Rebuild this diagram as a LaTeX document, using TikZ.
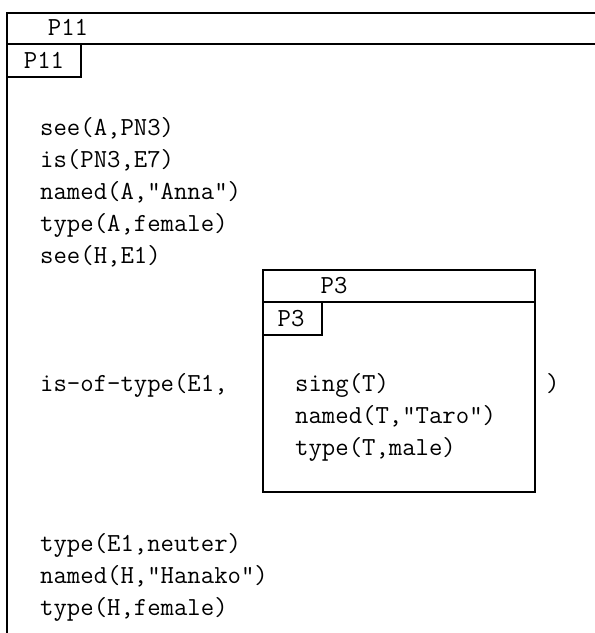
\documentclass[tikz,border=0pt]{standalone}
\usepackage{fontspec}
\setmonofont{Latin Modern Mono}
\begin{document}
\begin{tikzpicture}[x=1pt,y=-1pt,
  frame/.style={line width=1.8pt},
  txt/.style={anchor=base west,inner sep=0pt,font=\fontsize{26}{32}\selectfont\ttfamily},
  lbl/.style={anchor=base,inner sep=0pt,font=\fontsize{26}{32}\selectfont\ttfamily}]
\useasboundingbox (0,0) rectangle (595,633);
% outer box (open to the right and bottom)
\coordinate (oTL) at (7,13);
\coordinate (oTR) at (595,13);
\coordinate (oBL) at (7,633);
\coordinate (oHL) at (7,44);
\coordinate (oHR) at (595,44);
\draw[frame] (oTR) -- (oTL) -- (oBL);
\draw[frame] (oHL) -- (oHR);
\draw[frame] (7,44) -- (81,44) -- (81,77) -- (7,77);
\node[lbl] (oHead) at (68,35) {P11};
\node[lbl] (oTab) at (44,68) {P11};
% outer text
\node[txt] (l1) at (40,135) {see(A,PN3)};
\node[txt] (l2) at (40,167) {is(PN3,E7)};
\node[txt] (l3) at (40,199) {named(A,"Anna")};
\node[txt] (l4) at (40,231) {type(A,female)};
\node[txt] (l5) at (40,263) {see(H,E1)};
\node[txt] (l6) at (40,391) {is-of-type(E1,};
\node[txt] (l7) at (546,391) {)};
\node[txt] (l8) at (40,551) {type(E1,neuter)};
\node[txt] (l9) at (40,583) {named(H,"Hanako")};
\node[txt] (l10) at (40,615) {type(H,female)};
% inner box
\draw[frame] (263,270) rectangle (535,492);
\draw[frame] (263,302) -- (535,302);
\draw[frame] (263,302) -- (322,302) -- (322,335) -- (263,335);
\node[lbl] (iHead) at (334,293) {P3};
\node[lbl] (iTab) at (291,326) {P3};
\node[txt] (i1) at (295,391) {sing(T)};
\node[txt] (i2) at (295,423) {named(T,"Taro")};
\node[txt] (i3) at (295,455) {type(T,male)};
\end{tikzpicture}
\end{document}
